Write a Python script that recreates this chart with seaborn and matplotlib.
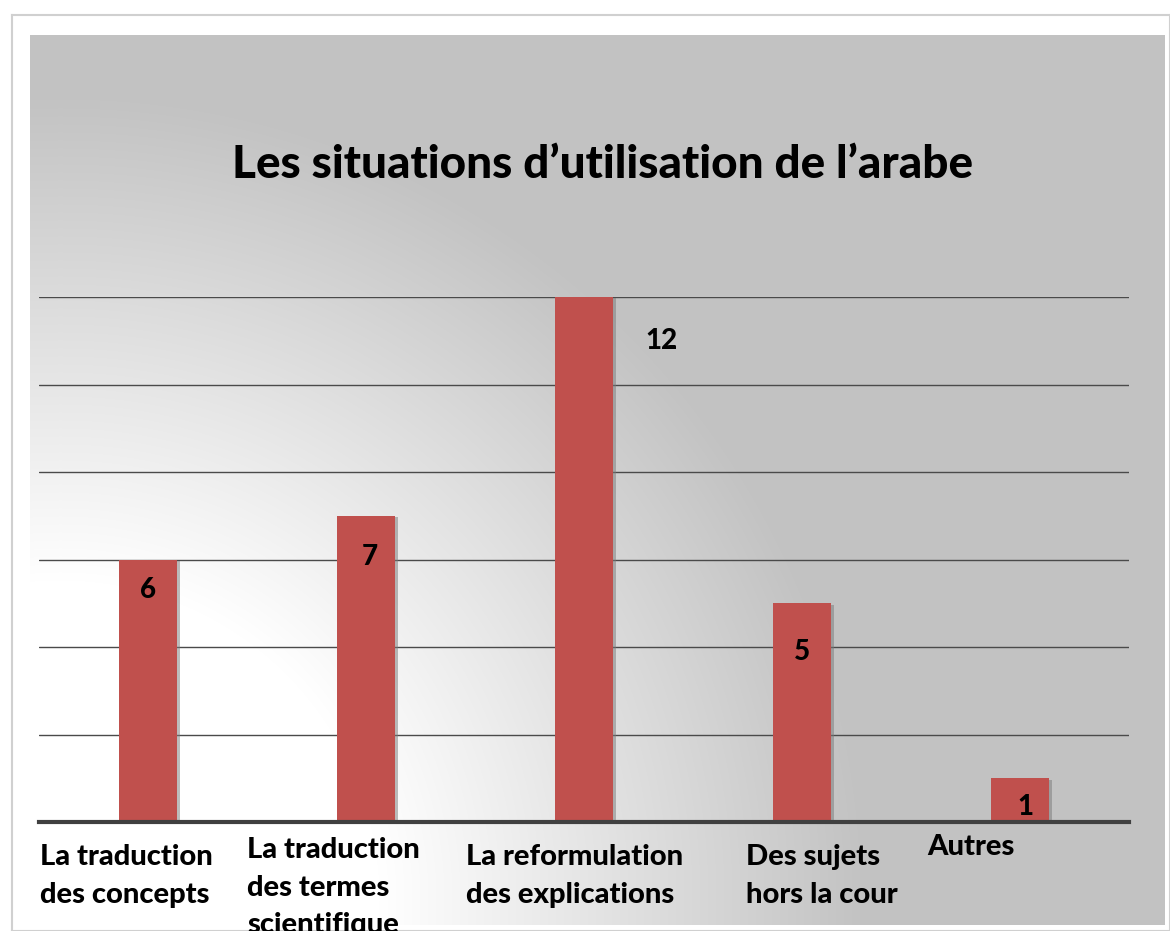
import numpy as np
import pandas as pd
import matplotlib
matplotlib.use("Agg")
import matplotlib.pyplot as plt
import matplotlib.patheffects as pe
import seaborn as sns

# data
categories = [
    "La traduction\ndes concepts",
    "La traduction\ndes termes\nscientifique",
    "La reformulation\ndes explications",
    "Des sujets\nhors la cour",
    "Autres",
]
values = [6, 7, 12, 5, 1]
title = "Les situations d\u2019utilisation de l\u2019arabe"

# label placement (pixels) — the original has hand-placed text boxes
label_dx = [-108, -119, -118, -56, -93]
label_dy = [-22, -15, -22, -22, -12]
value_off = [(0, -30), (4, -41), (77, -44), (0, -49), (5, -29)]

BAR_COLOR = "#C0504D"
W, H = 1170, 931

sns.set_theme(style="white")
plt.rcParams["font.family"] = ["Lato", "DejaVu Sans"]

fig = plt.figure(figsize=(W / 100, H / 100), dpi=100, facecolor="white")

# card outline + gradient panel behind the chart
card = fig.add_axes([12 / W, 0, 1 - 12 / W, 1 - 15 / H])
card.set_xticks([]); card.set_yticks([])
for s in card.spines.values():
    s.set_color("#d0d0d0")
    s.set_linewidth(1.5)
card.set_facecolor("white")

px0, py0, px1, py1 = 30, 35, 1165, 925
bg = fig.add_axes([px0 / W, 1 - py1 / H, (px1 - px0) / W, (py1 - py0) / H])
yy, xx = np.mgrid[py0:py1, px0:px1]
r = np.hypot(xx - 60, yy - 900)
t = np.clip((r - 320) / 480, 0, 1)
grey = (255 - 60 * t) / 255
bg.imshow(np.dstack([grey, grey, grey]), aspect="auto", interpolation="bilinear")
bg.axis("off")

# main chart
left, right, base, top = 39, 1129, 822, 297
ax = fig.add_axes([left / W, 1 - base / H, (right - left) / W, (base - top) / H])
ax.set_facecolor("none")

df = pd.DataFrame({"cat": categories, "val": values})
sns.barplot(data=df, x="cat", y="val", color=BAR_COLOR, width=0.27,
            saturation=1, linewidth=0, edgecolor="none", ax=ax, zorder=3)
for p in ax.patches:
    p.set_path_effects([pe.withSimplePatchShadow(offset=(2, -1), shadow_rgbFace="#7a7a7a", alpha=0.5)])

ax.set_ylim(0, 12)
ax.set_xlim(-0.5, len(categories) - 0.5)
ax.set_yticks(range(2, 13, 2))
ax.yaxis.grid(True, color="#4a4a4a", linewidth=1.0, zorder=0)
ax.set_axisbelow(True)
ax.tick_params(left=False, bottom=False, labelleft=False, labelbottom=False)
ax.set_xlabel("")
ax.set_ylabel("")
for side in ["left", "right", "top"]:
    ax.spines[side].set_visible(False)
ax.spines["bottom"].set_color("#404040")
ax.spines["bottom"].set_linewidth(3)
ax.spines["bottom"].set_zorder(4)

# value labels
for i, v in enumerate(values):
    dx, dy = value_off[i]
    ax.annotate(str(v), xy=(i, v), xytext=(dx * 0.72, dy * 0.72),
                textcoords="offset points", ha="center", va="center",
                fontsize=20, fontweight="black", color="black", zorder=5)

# category labels
for i, c in enumerate(categories):
    ax.annotate(c, xy=(i, 0), xycoords=("data", "axes fraction"),
                xytext=(label_dx[i] * 0.72, label_dy[i] * 0.72),
                textcoords="offset points", ha="left", va="top",
                multialignment="left", fontsize=21, fontweight="black",
                linespacing=1.55, color="black", annotation_clip=False)

fig.text(603 / W, 1 - 165 / H, title, ha="center", va="center",
         fontsize=33, fontweight="black", color="black")

fig.savefig("out.png", dpi=100, facecolor="white")
